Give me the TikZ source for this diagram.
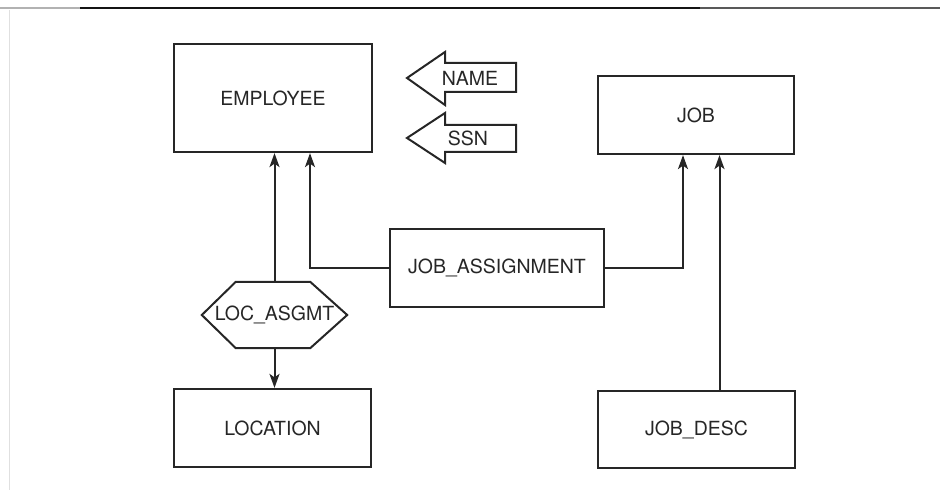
\documentclass[tikz,border=0pt]{standalone}
\usepackage{fontspec}
\setmainfont{TeX Gyre Heros}
\usetikzlibrary{arrows.meta}
\begin{document}
\begin{tikzpicture}[x=1pt,y=-1pt,
  ent/.style={draw=black!85, line width=2.2pt, rectangle, inner sep=0pt, text=black!85,
    font=\fontsize{19.5}{23}\selectfont},
  lbl/.style={inner sep=0pt, text=black!85, font=\fontsize{19.5}{23}\selectfont},
  conn/.style={draw=black!85, line width=2pt},
  arr/.style={conn, -{Stealth[length=14pt,width=10pt,inset=3.5pt]}},
  attr/.style={draw=black!85, line width=2pt, line join=miter}]
\useasboundingbox (0,0) rectangle (940,502);
% page border remnants
\draw[black!30, line width=1.2pt] (0,8) -- (80,8);
\draw[black!92, line width=2.6pt] (80,8) -- (700,8);
\draw[black!65, line width=2.4pt] (700,8) -- (940,8);
\draw[black!12, line width=1pt] (9,10) -- (9,490);
% entities
\node[ent, minimum width=198pt, minimum height=108pt] (emp) at (273,98) {EMPLOYEE};
\node[ent, minimum width=196pt, minimum height=78pt] (job) at (696,115) {JOB};
\node[ent, minimum width=214pt, minimum height=78pt] (ja) at (497,268) {JOB\_ASSIGNMENT};
\node[ent, minimum width=197pt, minimum height=78pt] (loc) at (272.5,428) {LOCATION};
\node[ent, minimum width=197pt, minimum height=77pt] (jd) at (696.5,429.5) {JOB\_DESC};
% hexagon
\node[lbl, minimum width=145pt, minimum height=66pt] (la) at (274.5,315) {LOC\_ASGMT};
\draw[attr] (la.west) -- ([xshift=34pt]la.north west) -- ([xshift=-37pt]la.north east)
  -- (la.east) -- ([xshift=-37pt]la.south east) -- ([xshift=34pt]la.south west) -- cycle;
% attribute arrows
\node[lbl] (name) at (470,78) {NAME};
\draw[attr] (407,78) -- (445,52) -- (445,63) -- (516,63) -- (516,92) -- (445,92) -- (445,105) -- cycle;
\node[lbl] (ssn) at (468,138) {SSN};
\draw[attr] (407,138) -- (445,113) -- (445,125) -- (516,125) -- (516,152) -- (445,152) -- (445,163) -- cycle;
% connectors
\draw[arr] (la.north) -- (la.north |- emp.south);
\draw[arr] (la.south) -- (la.south |- loc.north);
\draw[arr] (ja.west) -| ([xshift=37pt]emp.south);
\draw[arr] (ja.east) -| ([xshift=-13pt]job.south);
\draw[arr] ([xshift=23pt]jd.north) -- ([xshift=23pt]jd.north |- job.south);
\end{tikzpicture}
\end{document}
